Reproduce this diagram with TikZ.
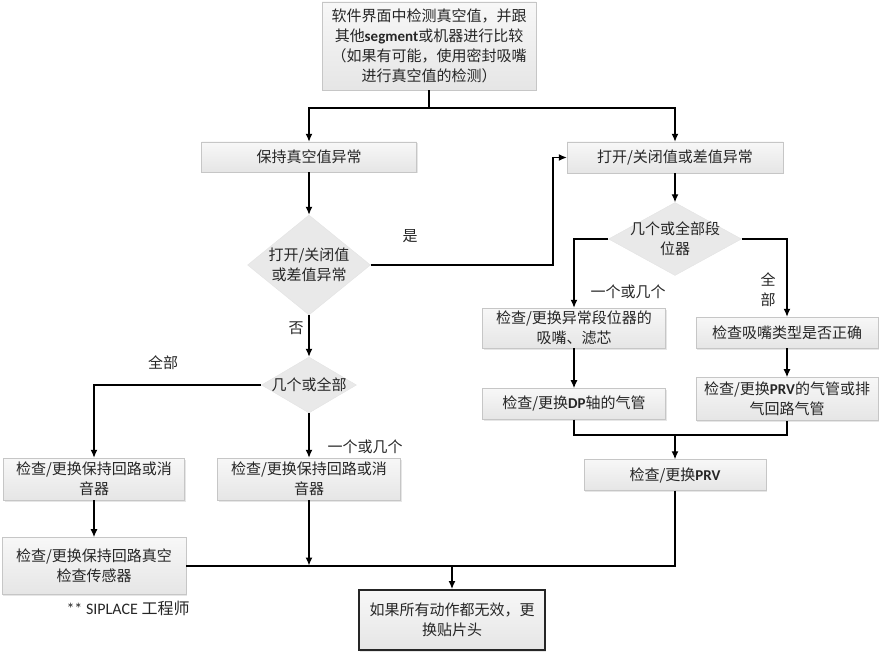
\documentclass[tikz,border=0pt]{standalone}
\usepackage{fontspec}
\setmainfont{Noto Sans CJK SC}
\newfontfamily\lat{Carlito}
\usepackage{tikz}
\usetikzlibrary{shapes.geometric, positioning, arrows.meta, shadows}

\tikzset{
  procbox/.style={rectangle, draw=gray!45, top color=gray!6, bottom color=gray!20,
    text=black!85, align=center, inner sep=2pt,
    font=\fontsize{15}{20}\selectfont,
    drop shadow={shadow xshift=1pt, shadow yshift=-1.5pt, opacity=0.2}},
  decision/.style={diamond, fill=gray!17, draw=gray!22, text=black!85, align=center,
    aspect=1.5, inner sep=-10pt, font=\fontsize{15}{20}\selectfont},
  endbox/.style={procbox, draw=black!85, line width=2pt},
  lbl/.style={text=black!85, align=center, inner sep=1pt, font=\fontsize{15}{20}\selectfont},
}

\begin{document}
\begin{tikzpicture}[x=1pt, y=-1pt, >={Latex[length=8pt,width=7pt]}]
    \useasboundingbox (0,0) rectangle (880,652);

    % start
    \node[procbox, minimum width=214pt, minimum height=88pt] (check) at (429,46)
      {软件界面中检测真空值，并跟\\其他{\lat\bfseries segment}或机器进行比较\\（如果有可能，使用密封吸嘴\\进行真空值的检测）};
    \coordinate (split) at (429,108);

    % left branch
    \node[procbox, minimum width=215pt, minimum height=30pt] (hold) at (309,157) {保持真空值异常};
    \node[decision, minimum width=123pt, minimum height=100pt] (dia1) at (309,265) {打开/关闭值\\或差值异常};
    \node[decision, minimum width=95pt, minimum height=56pt, inner sep=-4pt] (dia3) at (309,385) {几个或全部};
    \node[procbox, minimum width=181pt, minimum height=42pt] (chkHoldA) at (94,479) {检查/更换保持回路或消\\音器};
    \node[procbox, minimum width=183pt, minimum height=42pt] (chkHoldB) at (309,479) {检查/更换保持回路或消\\音器};
    \node[procbox, minimum width=184pt, minimum height=57pt, below=37pt of chkHoldA] (chkSensor) {检查/更换保持回路真空\\检查传感器};

    % right branch
    \node[procbox, minimum width=216pt, minimum height=31pt] (open) at (675,157.5) {打开/关闭值或差值异常};
    \coordinate (yesbend) at (553,157.5);
    \node[decision, minimum width=133pt, minimum height=73pt] (dia2) at (675,239) {几个或全部段\\位器};
    \node[procbox, minimum width=183pt, minimum height=40pt] (chkSeg) at (574,328) {检查/更换异常段位器的\\吸嘴、滤芯};
    \node[procbox, minimum width=182pt, minimum height=31pt] (chkNoz) at (787,332.5) {检查吸嘴类型是否正确};
    \node[procbox, minimum width=183pt, minimum height=31pt, below=40pt of chkSeg] (chkDP) {检查/更换{\lat\bfseries DP}轴的气管};
    \node[procbox, minimum width=182pt, minimum height=43pt, below=29pt of chkNoz] (chkPRVpipe) {检查/更换{\lat\bfseries PRV}的气管或排\\气回路气管};
    \coordinate (jr) at (675,435);
    \node[procbox, minimum width=182pt, minimum height=31pt] (chkPRV) at (675,475) {检查/更换{\lat\bfseries PRV}};

    % end
    \coordinate (jn) at (452,565.5);
    \node[endbox, minimum width=186pt, minimum height=60pt] (final) at (452,620) {如果所有动作都无效，更\\换贴片头};

    % labels
    \node[lbl] (yes) at (410,236) {是};
    \node[lbl] (no) at (296,328) {否};
    \node[lbl] (allL) at (163,363) {全部};
    \node[lbl] (someL) at (365,447) {一个或几个};
    \node[lbl] (someR) at (628,292) {一个或几个};
    \node[lbl] (allR) at (768,290) {全\\部};
    \node[lbl, font=\fontsize{16}{20}\selectfont] (note) at (128,608) {{\lat ** SIPLACE} 工程师};

    \draw[line width=1.3pt] (check) -- (split);
    \draw[->, line width=1.3pt] (split) -| (hold);
    \draw[->, line width=1.3pt] (split) -| (open);
    \draw[->, line width=1.3pt] (dia1) -| (yesbend) -- (open);
    \draw[->, line width=1.3pt] (dia3) -| (chkHoldA);
    \draw[->, line width=1.3pt] (dia2) -| (chkSeg);
    \draw[->, line width=1.3pt] (dia2) -| (chkNoz);
    \draw[line width=1.3pt] (chkDP) |- (jr) -| (chkPRVpipe);
    \draw[line width=1.3pt] (chkPRV) |- (chkSensor);
    \draw[->, line width=1.3pt] (chkHoldB) -- (chkHoldB |- jn);

    \path[->, line width=1.3pt]
    (hold) edge (dia1)
    (dia1) edge (dia3)
    (dia3) edge (chkHoldB)
    (chkHoldA) edge (chkSensor)
    (open) edge (dia2)
    (chkSeg) edge (chkDP)
    (chkNoz) edge (chkPRVpipe)
    (jr) edge (chkPRV)
    (jn) edge (final);

\end{tikzpicture}
\end{document}
